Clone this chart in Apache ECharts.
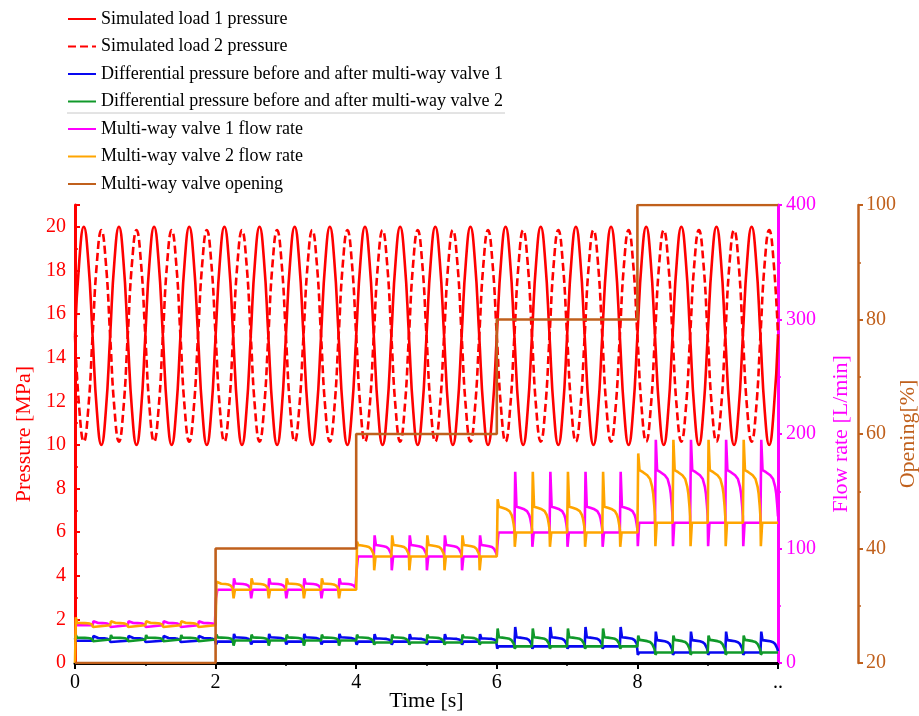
<!DOCTYPE html>
<html>
<head>
<meta charset="utf-8">
<script src="https://cdn.jsdelivr.net/npm/echarts@6/dist/echarts.min.js"></script>
<style>
  html, body { margin: 0; padding: 0; background: #fff; }
  #chart { width: 919px; height: 716px; }
</style>
</head>
<body>
<div id="chart"></div>
<script>
// Opening steps of the multi-way valve: start time of each step [s] and opening [%]
const segStart = [0, 2, 4, 6, 8, 10];
const opening = [20, 40, 60, 80, 100, 100];

// One 0.5 s period of each simulated load pressure, sampled every 1/16 s [MPa]
const pressurePeriod = 0.5;
const load1Cycle = [15, 18.5, 20, 18.5, 15, 11.5, 10, 11.5];
const load2Cycle = [15, 11.6, 10.15, 11.6, 15, 18.4, 19.85, 18.4];

// Flow rate levels of each opening step [L/min]
const flowLow  = [33.0, 64.0, 93.0, 114.0, 122.5];
const flowHigh = [35.0, 69.5, 103.0, 136.5, 168.5];
const flowPeak = [36.5, 74.0, 111.5, 167.0, 195.0];
const flowDip  = [31.5, 56.5, 81.0, 101.5, 102.0];
const flow2StepPeak = [40.0, 71.0, 106.0, 143.0, 183.0];
const flow2Start = 0;

// Differential pressure across each valve for each opening step [MPa]
const dp1Low  = [1.02, 0.98, 0.98, 0.76, 0.48];
const dp1High = [1.15, 1.18, 1.13, 1.18, 1.05];
const dp1Peak = [1.24, 1.33, 1.32, 1.65, 1.44];
const dp1Dip  = [0.96, 0.85, 0.84, 0.66, 0.37];
const dp2Low  = [1.08, 1.03, 0.94, 0.76, 0.48];
const dp2High = [1.16, 1.17, 1.18, 1.18, 1.06];
const dp2Peak = [1.28, 1.30, 1.30, 1.58, 1.26];
const dp2Dip  = [1.00, 0.80, 0.84, 0.66, 0.38];

// Shape of one surge after a valve switches on:
// time after switching [s] and fraction of the way from the low to the high level
const surgePeakAt = 0.012;
const surgeT = [0.03, 0.08, 0.14, 0.18, 0.21, 0.225, 0.24, 0.25];
const surgeF = [1.0, 0.96, 0.9, 0.83, 0.68, 0.55, 0.32, 0.12];
const dipAt = 0.006, recoverAt = 0.025;   // after switching off [s]
const switchPeriod = 0.5, onTime = 0.25;  // [s]
const valveLag = [0.25, 0];               // valve 1 switches a quarter period after valve 2

// Axis ticks
const timeTicks = [0, 2, 4, 6, 8, 10];
const pressureMax = 21, flowMax = 400;

const FONT = 'Liberation Serif';
const C = {
  load: '#ff0000', dp1: '#0808f0', dp2: '#10992a',
  flow1: '#ff00ff', flow2: '#ffa500', open: '#c0601c'
};
const tEnd = segStart[segStart.length - 1];

function segOf(t) {
  let s = 0;
  while (s + 1 < segStart.length - 1 && t >= segStart[s + 1] - 1e-9) s++;
  return s;
}

function periodicTrace(cycle) {
  const dt = pressurePeriod / cycle.length;
  const pts = [];
  for (let i = 0; i * dt <= tEnd + 1e-9; i++) pts.push([i * dt, cycle[i % cycle.length]]);
  return pts;
}

function valveTrace(lag, low, high, peak, dip, stepPeak, startValue) {
  const pts = [[0, startValue !== undefined ? startValue : low[0]]];
  for (let k = 0; lag + k * switchPeriod < tEnd - 1e-9; k++) {
    const t0 = lag + k * switchPeriod;
    const s = segOf(t0);
    const atStep = Math.abs(t0 - segStart[s]) < 1e-9;
    if (t0 > 0) pts.push([t0, low[segOf(t0 - 0.01)]]);
    pts.push([t0 + surgePeakAt, atStep && stepPeak ? stepPeak[s] : peak[s]]);
    surgeT.forEach((dt, i) => pts.push([t0 + dt, low[s] + surgeF[i] * (high[s] - low[s])]));
    const tOff = t0 + onTime;
    if (tOff < tEnd - 1e-9) {
      const s2 = segOf(tOff);
      pts.push([tOff + dipAt, dip[s2]]);
      pts.push([tOff + recoverAt, low[s2]]);
    }
  }
  const last = pts[pts.length - 1];
  if (last[0] < tEnd) pts.push([tEnd, last[1]]);
  return pts.filter(p => p[0] <= tEnd + 1e-9);
}

const names = [
  'Simulated load 1 pressure',
  'Simulated load 2 pressure',
  'Differential pressure before and after multi-way valve 1',
  'Differential pressure before and after multi-way valve 2',
  'Multi-way valve 1 flow rate',
  'Multi-way valve 2 flow rate',
  'Multi-way valve opening'
];

function lineSeries(name, color, yAxisIndex, data, extra) {
  return Object.assign({
    name, type: 'line', yAxisIndex, data,
    symbol: 'none', showSymbol: false, animation: false,
    lineStyle: { color, width: 2.6 }, itemStyle: { color },
    emphasis: { disabled: true }
  }, extra || {});
}

const chart = echarts.init(document.getElementById('chart'), null, { renderer: 'canvas' });

chart.setOption({
  backgroundColor: '#ffffff',
  animation: false,
  textStyle: { fontFamily: FONT },
  grid: { left: 75, right: 141, top: 205, bottom: 53, containLabel: false, outerBoundsMode: 'none' },
  legend: {
    orient: 'vertical', left: 62, top: 5,
    itemWidth: 28, itemHeight: 14, itemGap: 9.5,
    itemStyle: { opacity: 0 },
    textStyle: { fontFamily: FONT, fontSize: 18, color: '#000', lineHeight: 18 },
    data: names,
    selectedMode: false
  },
  graphic: [{
    type: 'line', silent: true,
    shape: { x1: 67, y1: 113, x2: 505, y2: 113 },
    style: { stroke: '#c8c8c8', lineWidth: 1 }
  }],
  xAxis: {
    type: 'value', min: timeTicks[0], max: timeTicks[timeTicks.length - 1], interval: 2,
    name: 'Time [s]', nameLocation: 'middle', nameGap: 27, nameMoveOverlap: false,
    nameTextStyle: { fontFamily: FONT, fontSize: 22, color: '#000' },
    axisLine: { onZero: false, lineStyle: { color: '#000', width: 3 } },
    axisTick: { length: 6, lineStyle: { color: '#000', width: 2 } },
    minorTick: { show: true, splitNumber: 2, length: 3, lineStyle: { color: '#000', width: 1.5 } },
    splitLine: { show: false }, minorSplitLine: { show: false },
    axisLabel: {
      fontFamily: FONT, fontSize: 20, color: '#000', margin: 10,
      formatter: v => (v === timeTicks[timeTicks.length - 1] ? '..' : String(v))
    }
  },
  yAxis: [
    {
      type: 'value', position: 'left', min: 0, max: pressureMax, interval: 2,
      name: 'Pressure [MPa]', nameLocation: 'middle', nameGap: 40, nameMoveOverlap: false,
      nameTextStyle: { fontFamily: FONT, fontSize: 22, color: C.load },
      axisLine: { show: true, onZero: false, lineStyle: { color: C.load, width: 3 } },
      axisTick: { show: true, inside: true, length: 5, lineStyle: { color: C.load, width: 2 } },
      minorTick: { show: true, splitNumber: 2, length: 3, lineStyle: { color: C.load, width: 1.5 } },
      splitLine: { show: false }, minorSplitLine: { show: false },
      axisLabel: {
        fontFamily: FONT, fontSize: 20, color: C.load, margin: 9,
        formatter: v => (v > 20 ? '' : String(v))
      }
    },
    {
      type: 'value', position: 'right', min: 0, max: flowMax, interval: 100,
      name: 'Flow rate [L/min]', nameLocation: 'middle', nameGap: 52, nameMoveOverlap: false,
      nameTextStyle: { fontFamily: FONT, fontSize: 22, color: C.flow1 },
      axisLine: { show: true, onZero: false, lineStyle: { color: C.flow1, width: 3 } },
      axisTick: { show: true, length: 4, lineStyle: { color: C.flow1, width: 2 } },
      minorTick: { show: true, splitNumber: 2, length: 3, lineStyle: { color: C.flow1, width: 1.5 } },
      splitLine: { show: false }, minorSplitLine: { show: false },
      axisLabel: { fontFamily: FONT, fontSize: 20, color: C.flow1, margin: 8 }
    },
    {
      type: 'value', position: 'right', offset: 80, min: 20, max: 100, interval: 20,
      name: 'Opening[%]', nameLocation: 'middle', nameGap: 39, nameMoveOverlap: false,
      nameTextStyle: { fontFamily: FONT, fontSize: 22, color: C.open },
      axisLine: { show: true, onZero: false, lineStyle: { color: C.open, width: 2.5 } },
      axisTick: { show: true, length: 5, lineStyle: { color: C.open, width: 2 } },
      minorTick: { show: true, splitNumber: 2, length: 3, lineStyle: { color: C.open, width: 1.5 } },
      splitLine: { show: false }, minorSplitLine: { show: false },
      axisLabel: { fontFamily: FONT, fontSize: 20, color: C.open, margin: 8 }
    }
  ],
  series: [
    lineSeries(names[0], C.load, 0, periodicTrace(load1Cycle), { smooth: 0.5 }),
    lineSeries(names[1], C.load, 0, periodicTrace(load2Cycle),
      { smooth: 0.5, lineStyle: { color: C.load, width: 2.6, type: [8, 4] } }),
    lineSeries(names[2], C.dp1, 0, valveTrace(valveLag[0], dp1Low, dp1High, dp1Peak, dp1Dip)),
    lineSeries(names[3], C.dp2, 0, valveTrace(valveLag[1], dp2Low, dp2High, dp2Peak, dp2Dip)),
    lineSeries(names[4], C.flow1, 1, valveTrace(valveLag[0], flowLow, flowHigh, flowPeak, flowDip)),
    lineSeries(names[5], C.flow2, 1,
      valveTrace(valveLag[1], flowLow, flowHigh, flowPeak, flowDip, flow2StepPeak, flow2Start)),
    lineSeries(names[6], C.open, 2, segStart.map((t, i) => [t, opening[i]]), { step: 'end' })
  ]
});
</script>
</body>
</html>
